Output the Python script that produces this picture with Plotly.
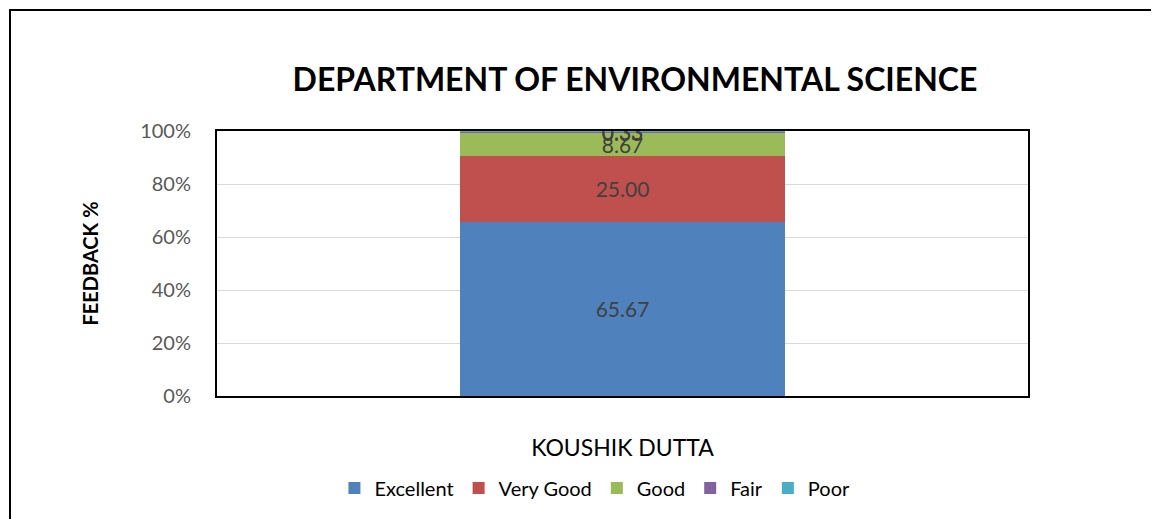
import plotly.graph_objects as go

# feedback for one faculty member, percent per rating
teacher = ["KOUSHIK DUTTA"]
ratings = ["Excellent", "Very Good", "Good", "Fair", "Poor"]
excellent = [65.67]
very_good = [25.00]
good = [8.67]
fair = [0.33]
poor = [0.33]
values = [excellent, very_good, good, fair, poor]
colors = ["#4F81BD", "#C0504D", "#9BBB59", "#8064A2", "#4BACC6"]

W, H = 1151, 511  # page body has an 8px margin
L, T = 209, 123
PW, PH = 811, 265

fig = go.Figure()
for name, vals, col in zip(ratings, values, colors):
    fig.add_trace(go.Bar(
        x=teacher, y=vals, name=name,
        marker=dict(color=col, line=dict(width=0)),
        text=[f"{v:.2f}" for v in vals],
        textposition="inside", insidetextanchor="middle",
        textangle=0, constraintext="none",
        textfont=dict(family="Lato", size=21, color="#404040"),
        width=0.4,
    ))

fig.update_layout(
    barmode="stack",
    width=W, height=H,
    paper_bgcolor="white", plot_bgcolor="white",
    margin=dict(l=L, r=W - L - PW, t=T, b=H - T - PH),
    title=dict(text="<b>DEPARTMENT OF ENVIRONMENTAL SCIENCE</b>",
               x=627 / W, xanchor="center", y=1 - 72 / H, yanchor="middle",
               font=dict(family="Lato", size=32, color="black")),
    legend=dict(orientation="h", x=0.466, xanchor="center", y=-0.347, yanchor="middle",
                font=dict(family="Lato", size=20, color="black"),
                itemwidth=30, traceorder="normal"),
    font=dict(family="Lato"),
)

fig.update_yaxes(
    range=[0, 100], dtick=20, ticksuffix="%",
    tickfont=dict(size=20, color="#595959"), ticklabelstandoff=20,
    showgrid=True, gridcolor="#D9D9D9", gridwidth=1,
    showline=True, linecolor="black", linewidth=2, mirror=True,
    title=dict(text="<b>FEEDBACK %</b>", font=dict(size=20, color="black"), standoff=36),
    zeroline=False,
)
fig.update_xaxes(
    showline=True, linecolor="black", linewidth=2, mirror=True,
    tickfont=dict(size=23, color="black"), ticklabelstandoff=30,
)

# outer chart border
fig.add_shape(type="rect", xref="paper", yref="paper",
              x0=(2 - L) / PW, x1=1.3, y0=-0.7, y1=1 + (T - 2) / PH,
              line=dict(color="black", width=2), layer="below")

fig.write_html("out.html")
